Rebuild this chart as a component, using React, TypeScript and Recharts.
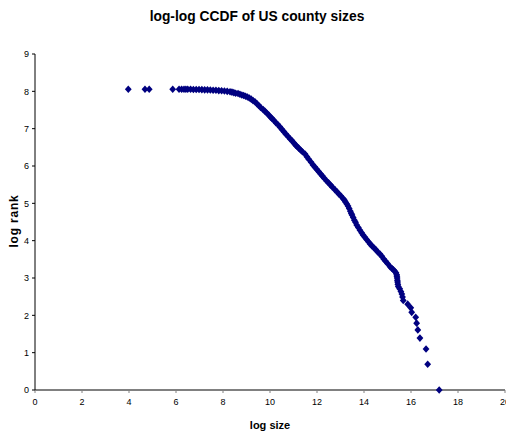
import { ScatterChart, Scatter, XAxis, YAxis } from 'recharts';

// [log size, log rank]
const sparseHead: [number, number][] = [
  [3.97, 8.055], [4.68, 8.055], [4.86, 8.055], [5.86, 8.055], [6.13, 8.055],
  [6.24, 8.055], [6.34, 8.055], [6.42, 8.055],
];

const flatPart: [number, number][] = [
  [6.5, 8.055], [6.62, 8.055], [6.74, 8.05], [6.86, 8.05], [6.98, 8.05],
  [7.1, 8.045], [7.22, 8.04], [7.34, 8.04], [7.46, 8.035], [7.58, 8.03],
  [7.7, 8.03], [7.82, 8.02], [7.94, 8.015], [8.06, 8.01], [8.18, 8.0],
  [8.3, 7.99], [8.38, 7.98], [8.46, 7.965], [8.54, 7.95], [8.64, 7.94],
  [8.72, 7.92], [8.8, 7.9], [8.88, 7.89], [8.96, 7.87], [9.04, 7.85],
  [9.12, 7.82], [9.2, 7.79], [9.28, 7.75], [9.36, 7.72],
];

const slopePart: [number, number][] = [
  [9.44, 7.67], [9.52, 7.62], [9.6, 7.57], [9.71, 7.51], [9.78, 7.47],
  [9.86, 7.42], [9.94, 7.37], [10.02, 7.31], [10.09, 7.27], [10.17, 7.22],
  [10.25, 7.16], [10.33, 7.11], [10.43, 7.04], [10.51, 6.98], [10.59, 6.92],
  [10.67, 6.86], [10.77, 6.79], [10.85, 6.73], [10.93, 6.68], [11.01, 6.62],
  [11.09, 6.56], [11.14, 6.53], [11.22, 6.48], [11.3, 6.43], [11.38, 6.38],
  [11.49, 6.32], [11.57, 6.25], [11.65, 6.18], [11.75, 6.1], [11.83, 6.03],
  [11.91, 5.97], [11.99, 5.91], [12.07, 5.85], [12.15, 5.79], [12.23, 5.73],
  [12.31, 5.67], [12.41, 5.6], [12.49, 5.55], [12.57, 5.49], [12.65, 5.44],
  [12.77, 5.36], [12.85, 5.31], [12.93, 5.25], [13.01, 5.2], [13.12, 5.12],
  [13.17, 5.08], [13.22, 5.03], [13.27, 4.98], [13.32, 4.93], [13.37, 4.86],
  [13.42, 4.79], [13.46, 4.73], [13.49, 4.69], [13.54, 4.62], [13.59, 4.55],
  [13.64, 4.49], [13.69, 4.42], [13.76, 4.35], [13.83, 4.28], [13.9, 4.21],
  [13.96, 4.15], [14.04, 4.09], [14.11, 4.03], [14.19, 3.97], [14.26, 3.91],
  [14.34, 3.86], [14.42, 3.81], [14.5, 3.76], [14.58, 3.7], [14.68, 3.64],
  [14.76, 3.58], [14.84, 3.51], [14.92, 3.45], [15.0, 3.39], [15.11, 3.3],
];

const tailPart: [number, number][] = [
  [15.18, 3.26], [15.25, 3.22], [15.31, 3.18], [15.36, 3.14], [15.39, 3.09],
  [15.4, 3.05], [15.41, 3.0], [15.42, 2.94], [15.43, 2.89], [15.44, 2.83],
  [15.46, 2.77], [15.52, 2.71], [15.57, 2.64], [15.61, 2.57], [15.64, 2.49],
  [15.67, 2.4], [15.86, 2.3], [15.99, 2.2], [16.03, 2.08], [16.2, 1.95],
  [16.24, 1.79], [16.29, 1.61], [16.38, 1.39], [16.64, 1.1], [16.71, 0.69],
  [17.2, 0],
];

const xTicks = [0, 2, 4, 6, 8, 10, 12, 14, 16, 18, 20];
const yTicks = [0, 1, 2, 3, 4, 5, 6, 7, 8, 9];

const data = [...sparseHead, ...flatPart, ...slopePart, ...tailPart].map(([x, y]) => ({ x, y }));

const font = '"Liberation Sans", Arial, sans-serif';

const Diamond = (props: any) => {
  const { cx, cy } = props;
  if (cx == null || cy == null) return null;
  return (
    <path
      d={`M${cx},${cy - 3.8} L${cx + 3.4},${cy} L${cx},${cy + 3.8} L${cx - 3.4},${cy} Z`}
      fill="#000080"
    />
  );
};

export default function App() {
  return (
    <div style={{ position: 'absolute', left: 0, top: 0, width: 506, height: 432, background: '#fff' }}>
      <div
        style={{
          position: 'absolute', left: 256.5, top: 15, transform: 'translate(-50%, -50%) scaleX(0.92)',
          fontFamily: font, fontWeight: 'bold', fontSize: 15, whiteSpace: 'nowrap',
        }}
      >
        log-log CCDF of US county sizes
      </div>
      <div
        style={{
          position: 'absolute', left: 270, top: 425, transform: 'translate(-50%, -50%)',
          fontFamily: font, fontWeight: 'bold', fontSize: 11, whiteSpace: 'nowrap',
        }}
      >
        log size
      </div>
      <div
        style={{
          position: 'absolute', left: 13.5, top: 221, transform: 'translate(-50%, -50%) rotate(-90deg)',
          fontFamily: font, fontWeight: 'bold', fontSize: 12, letterSpacing: 0.8, whiteSpace: 'nowrap',
        }}
      >
        log rank
      </div>
      <ScatterChart width={506} height={432} margin={{ top: 54, right: 1, left: 0, bottom: 0 }}>
        <XAxis
          type="number"
          dataKey="x"
          domain={[0, 20]}
          ticks={xTicks}
          interval={0}
          height={42}
          tickSize={3}
          tickMargin={6}
          axisLine={{ stroke: '#808080', strokeWidth: 2 }}
          tickLine={{ stroke: '#808080' }}
          tick={{ fontSize: 9, fontFamily: font, fill: '#000' }}
        />
        <YAxis
          type="number"
          dataKey="y"
          domain={[0, 9]}
          ticks={yTicks}
          interval={0}
          width={35}
          tickSize={3}
          tickMargin={3}
          axisLine={{ stroke: '#000' }}
          tickLine={{ stroke: '#000' }}
          tick={{ fontSize: 9, fontFamily: font, fill: '#000' }}
        />
        <Scatter data={data} shape={Diamond} isAnimationActive={false} />
      </ScatterChart>
    </div>
  );
}
